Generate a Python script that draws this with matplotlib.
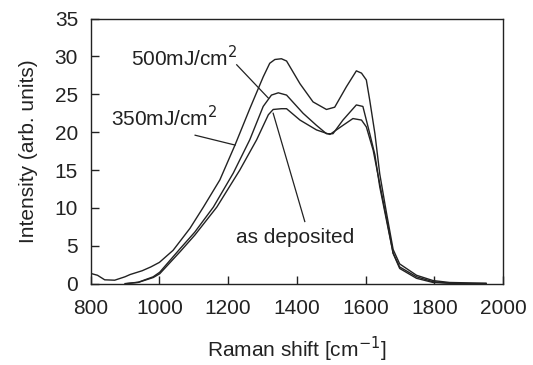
import matplotlib
matplotlib.use('Agg')
import matplotlib.pyplot as plt

# Espectros Raman
x_350 = [800, 820, 841, 870, 900, 915, 950, 975, 1000, 1040, 1089, 1128, 1176, 1220,
         1263, 1302, 1321, 1336, 1355, 1370, 1409, 1447, 1486, 1510, 1544, 1573, 1588,
         1602, 1612, 1627, 1641, 1660, 1680, 1699, 1748, 1796, 1844, 1950]
y_350 = [1.35, 1.1, 0.5, 0.45, 0.9, 1.2, 1.7, 2.2, 2.8, 4.4, 7.3, 10.1, 13.7, 18.3,
         23.1, 27.3, 29.1, 29.6, 29.7, 29.4, 26.4, 24.0, 23.0, 23.3, 26.0, 28.1, 27.8,
         26.9, 24.2, 19.8, 14.5, 9.5, 4.5, 2.6, 1.1, 0.4, 0.15, 0.05]

x_500 = [905, 940, 982, 1001, 1060, 1103, 1157, 1215, 1263, 1302, 1326, 1346, 1370,
         1418, 1457, 1486, 1505, 1534, 1573, 1592, 1612, 1627, 1641, 1660, 1680, 1699,
         1748, 1796, 1864, 1950]
y_500 = [0.0, 0.2, 0.9, 1.5, 4.6, 6.8, 10.1, 14.6, 19.0, 23.4, 24.9, 25.2, 24.9,
         22.5, 20.9, 19.8, 19.8, 21.6, 23.6, 23.4, 19.8, 17.0, 12.8, 8.5, 4.0, 2.0,
         0.7, 0.15, 0.0, 0.0]

x_dep = [900, 938, 982, 1001, 1060, 1103, 1167, 1234, 1283, 1317, 1331, 1355, 1370,
         1409, 1457, 1496, 1534, 1563, 1588, 1602, 1622, 1641, 1660, 1680, 1699, 1748,
         1796, 1864, 1950]
y_dep = [0.0, 0.15, 0.8, 1.3, 4.2, 6.4, 10.1, 15.0, 19.0, 22.3, 23.0, 23.1, 23.1,
         21.6, 20.3, 19.7, 20.9, 21.8, 21.6, 20.7, 17.6, 13.2, 8.8, 4.0, 2.2, 0.9,
         0.25, 0.0, 0.0]

plt.rcParams['font.family'] = ['Liberation Sans', 'DejaVu Sans']
plt.rcParams['font.size'] = 15

fig = plt.figure(figsize=(5.33, 3.65), dpi=100)
ax = fig.add_axes([0.170, 0.223, 0.774, 0.726])

col = '#222222'
ax.plot(x_350, y_350, color=col, lw=1.0)
ax.plot(x_500, y_500, color=col, lw=1.0)
ax.plot(x_dep, y_dep, color=col, lw=1.0)

# Etiquetas con lineas guia
ax.text(918, 29.9, '500mJ/cm$^2$', va='center', ha='left', color=col)
ax.plot([1225, 1317], [28.9, 24.5], color=col, lw=0.9)
ax.text(860, 21.9, '350mJ/cm$^2$', va='center', ha='left', color=col)
ax.plot([1104, 1220], [19.6, 18.3], color=col, lw=0.9)
ax.text(1223, 6.1, 'as deposited', va='center', ha='left', color=col)
ax.plot([1423, 1331], [8.2, 22.5], color=col, lw=0.9)

ax.set_xlim(800, 2000)
ax.set_ylim(0, 35)
ax.set_xticks(range(800, 2001, 200))
ax.set_yticks(range(0, 36, 5))
ax.tick_params(axis='both', direction='in', length=6, width=1, top=False, right=False,
               colors=col, labelcolor=col)
ax.tick_params(axis='x', pad=11)
ax.tick_params(axis='y', pad=9)
for s in ax.spines.values():
    s.set_color(col)
    s.set_linewidth(1.0)

ax.set_xlabel('Raman shift [cm$^{-1}$]', color=col, labelpad=12)
ax.set_ylabel('Intensity (arb. units)', color=col, labelpad=12)

fig.savefig('out.png', dpi=100)
